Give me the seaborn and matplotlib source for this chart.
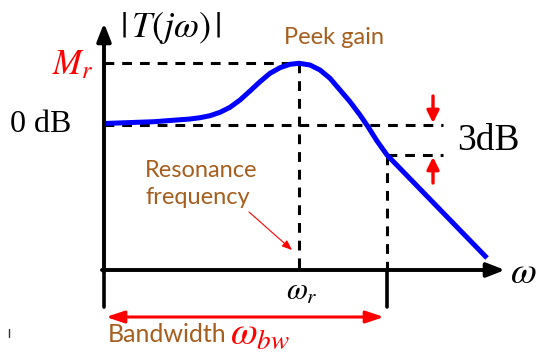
import matplotlib
matplotlib.use("Agg")
import matplotlib.pyplot as plt
import seaborn as sns
import pandas as pd

# Magnitude response sketch (diagram units: origin at the axis corner)
omega = [0, 50, 86, 96, 106, 116, 126, 136, 146, 156, 166, 176, 186, 195,
         206, 216, 226, 236, 246, 256, 264, 273, 283, 383]
gain = [146.5, 148.3, 151, 152.3, 154.3, 157.7, 162.7, 170, 179, 188.3, 196.7,
        202.3, 205.7, 206.7, 205, 200, 191.7, 180, 168.3, 155, 143.3, 129, 115, 12]

gain_0db = 145      # 0 dB reference level
gain_peak = 207     # resonant peak M_r
gain_3db = 115      # -3 dB level
omega_r = 195       # resonance frequency
omega_bw = 283      # bandwidth frequency
x_axis_end = 401
y_axis_end = 247

brown = "#A65E1E"
red = "#FF0000"

sns.set_theme(style="white")
plt.rcParams["mathtext.fontset"] = "stix"
plt.rcParams["font.family"] = ["Lato", "DejaVu Sans"]

fig = plt.figure(figsize=(5.37, 3.56), dpi=100)
ax = fig.add_axes([0, 0, 1, 1])
ax.set_xlim(-104, 433)
ax.set_ylim(-86, 270)
ax.axis("off")

dash_kw = dict(color="black", lw=2.2, dashes=(3.2, 2.6), zorder=2)

# Guide lines
ax.plot([0, omega_r], [gain_peak, gain_peak], **dash_kw)
ax.plot([0, 339], [gain_0db, gain_0db], **dash_kw)
ax.plot([omega_r, omega_r], [gain_peak, 0], **dash_kw)
ax.plot([omega_bw, 339], [gain_3db, gain_3db], **dash_kw)
ax.plot([omega_bw, omega_bw], [gain_3db, 0], **dash_kw)

# Response curve
df = pd.DataFrame({"omega": omega, "gain": gain})
sns.lineplot(data=df, x="omega", y="gain", ax=ax, color="#0000FF", lw=3.6,
             sort=False, zorder=4, solid_capstyle="butt")

# Axes with arrow heads
arrow_kw = dict(arrowstyle="-|>,head_length=0.9,head_width=0.35", color="black",
                lw=2.8, shrinkA=0, shrinkB=0)
ax.annotate("", xy=(0, y_axis_end), xytext=(0, -2), arrowprops=arrow_kw, zorder=5)
ax.annotate("", xy=(x_axis_end, 0), xytext=(-2, 0), arrowprops=arrow_kw, zorder=5)

# Bandwidth end marks
ax.plot([0, 0], [-3, -37], color="black", lw=2.6)
ax.plot([omega_bw, omega_bw], [0, -37], color="black", lw=2.6)
ax.plot([-95, -95], [-59, -67], color="#333333", lw=1.0)

# Bandwidth double arrow
ax.annotate("", xy=(2, -47), xytext=(280, -47),
            arrowprops=dict(arrowstyle="<|-|>,head_length=0.9,head_width=0.3",
                            color=red, lw=2.2, shrinkA=0, shrinkB=0))

# 3 dB markers
red_arrow = dict(arrowstyle="-|>,head_length=0.6,head_width=0.3", color=red,
                 lw=2.4, shrinkA=0, shrinkB=0)
ax.annotate("", xy=(329, 147), xytext=(329, 174), arrowprops=red_arrow)
ax.annotate("", xy=(329, 113), xytext=(329, 87), arrowprops=red_arrow)

# Pointer to the resonance frequency
ax.annotate("", xy=(188, 20), xytext=(145, 58),
            arrowprops=dict(arrowstyle="-|>,head_length=0.5,head_width=0.2",
                            color=red, lw=0.8, shrinkA=0, shrinkB=0))

# Labels
ax.text(67, 242, r"$|\,T(j\omega)\,|$", fontsize=26, ha="center", va="center", color="black")
ax.text(-31, 205, r"$M_r$", fontsize=25, ha="center", va="center", color=red)
ax.text(-94, 145, "0 dB", fontsize=23, ha="left", va="center", color="black",
        family="Liberation Serif")
ax.text(353, 129, "3dB", fontsize=27, ha="left", va="center", color="black",
        family="Liberation Serif")
ax.text(230, 233, "Peek gain", fontsize=17, ha="center", va="center", color=brown)
ax.text(41, 86, "Resonance\nfrequency", fontsize=17, ha="left", va="center",
        color=brown, linespacing=1.35)
ax.text(198, -22, r"$\omega_r$", fontsize=22, ha="center", va="center", color="black")
ax.text(406, -2, r"$\omega$", fontsize=27, ha="left", va="center", color="black")
ax.text(4, -65, "Bandwidth", fontsize=18, ha="left", va="center", color=brown)
ax.text(126, -63, r"$\omega_{bw}$", fontsize=28, ha="left", va="center", color=red)

fig.savefig("out.png", dpi=100)
